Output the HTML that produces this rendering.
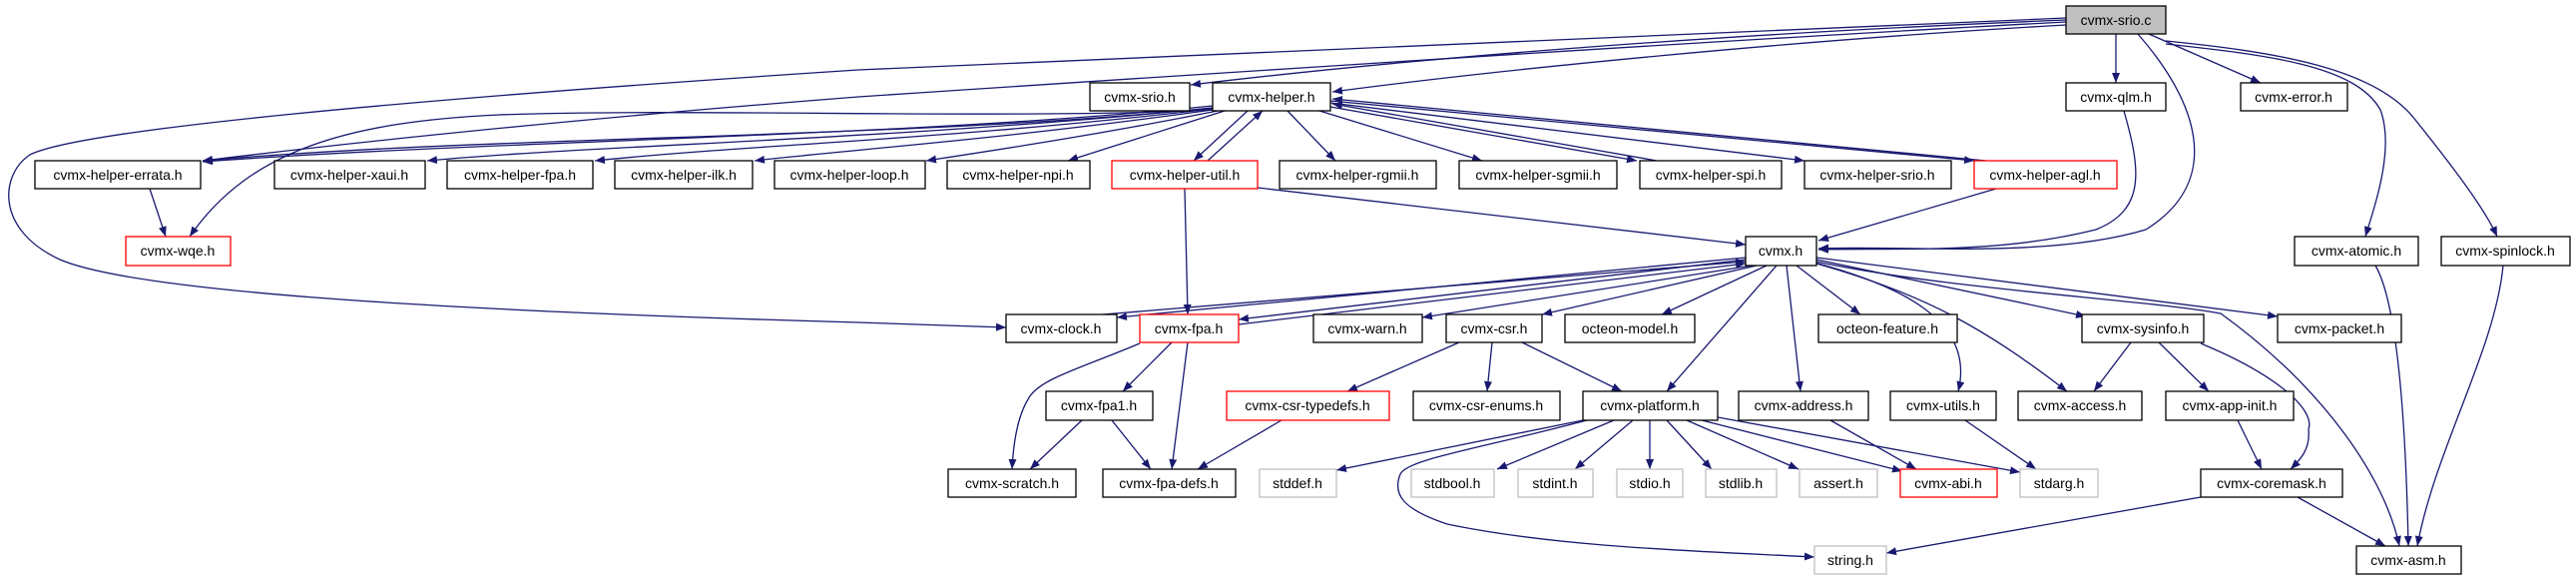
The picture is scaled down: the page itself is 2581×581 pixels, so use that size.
<!DOCTYPE html>
<html><head><meta charset="utf-8"><style>
html,body{margin:0;padding:0;background:#fff;}
svg{display:block;}
text{font-family:"Liberation Sans",sans-serif;font-size:14px;fill:#000;}
.e{fill:none;stroke:#191970;stroke-width:1.3;marker-end:url(#a);}
.n{fill:#fff;stroke:#000;stroke-width:1.3;}
.r{fill:#fff;stroke:#ff0000;stroke-width:1.3;}
.g{fill:#fff;stroke:#bfbfbf;stroke-width:1.3;}
</style></head><body>
<svg width="2581" height="581" viewBox="0 0 2581 581" xmlns="http://www.w3.org/2000/svg">
<defs><marker id="a" markerUnits="userSpaceOnUse" markerWidth="11" markerHeight="9" refX="10" refY="4" orient="auto"><path d="M0,0 L10,4 L0,8 z" fill="#191970"/></marker></defs>
<g>
<path class="e" d="M2070,20 C1700,35 1400,60 1193,85"/>
<path class="e" d="M2070,25 C1800,40 1500,70 1335,92"/>
<path class="e" d="M2120,34 L2120,83"/>
<path class="e" d="M2153,34 L2265,83"/>
<path class="e" d="M2142,34 C2200,100 2230,180 2150,230 C2050,260 1900,245 1822,249"/>
<path class="e" d="M2170,44 C2270,55 2360,65 2385,110 C2400,150 2378,210 2370,237"/>
<path class="e" d="M2170,41 C2280,52 2380,68 2420,120 C2460,170 2490,210 2502,237"/>
<path class="e" d="M2070,22 Q1720,40 860,97 Q500,125 203,161"/>
<path class="e" d="M2070,18 L860,70 C400,100 80,130 30,155 C0,175 -5,230 60,260 C130,290 400,310 860,323 L1008,328"/>
<path class="e" d="M1215,110 C1000,120 700,108 500,115 C350,122 250,150 190,237"/>
<path class="e" d="M1215,108 C900,140 500,135 203,161"/>
<path class="e" d="M1215,106 C900,138 500,140 203,162"/>
<path class="e" d="M1215,108 C900,140 600,145 428,161"/>
<path class="e" d="M1215,109 C950,140 750,145 596,161"/>
<path class="e" d="M1215,110 C1000,140 850,150 756,161"/>
<path class="e" d="M1220,111 C1100,135 1000,150 928,161"/>
<path class="e" d="M1227,111 L1070,161"/>
<path class="e" d="M1250,111 L1196,161"/>
<path class="e" d="M1210,161 L1265,111"/>
<path class="e" d="M1290,111 L1338,161"/>
<path class="e" d="M1322,111 L1485,161"/>
<path class="e" d="M1333,107 L1640,161"/>
<path class="e" d="M1660,161 L1335,104"/>
<path class="e" d="M1333,103 L1808,161"/>
<path class="e" d="M1333,101 L1978,161"/>
<path class="e" d="M1990,161 L1335,99"/>
<path class="e" d="M1187,189 L1190,315"/>
<path class="e" d="M1260,188 L1749,245"/>
<path class="e" d="M2000,189 L1822,241"/>
<path class="e" d="M2128,111 C2145,170 2150,210 2100,230 C2000,255 1900,248 1822,250"/>
<path class="e" d="M150,189 L166,237"/>
<path class="e" d="M2380,266 C2400,300 2410,400 2413,547"/>
<path class="e" d="M2508,266 C2500,350 2440,450 2422,547"/>
<path class="e" d="M1820,262 C1950,290 2150,300 2225,314 C2330,390 2390,480 2404,547"/>
<path class="e" d="M1749,258 L1119,318"/>
<path class="e" d="M1105,315 L1749,262"/>
<path class="e" d="M1749,260 L1241,320"/>
<path class="e" d="M1241,325 L1749,264"/>
<path class="e" d="M1755,266 L1425,318"/>
<path class="e" d="M1760,266 L1545,315"/>
<path class="e" d="M1770,266 L1665,315"/>
<path class="e" d="M1780,266 L1670,392"/>
<path class="e" d="M1800,266 L1864,315"/>
<path class="e" d="M1790,266 L1804,392"/>
<path class="e" d="M1818,263 C1900,285 1980,320 1962,392"/>
<path class="e" d="M1820,264 C1930,295 1990,330 2071,392"/>
<path class="e" d="M1820,260 L2090,317"/>
<path class="e" d="M1820,258 L2282,317"/>
<path class="e" d="M1174,343 L1125,392"/>
<path class="e" d="M1190,343 L1174,470"/>
<path class="e" d="M1142,344 C1080,370 1040,380 1030,400 C1018,420 1015,450 1014,470"/>
<path class="e" d="M1084,421 L1032,470"/>
<path class="e" d="M1114,421 L1153,470"/>
<path class="e" d="M1462,343 L1350,392"/>
<path class="e" d="M1495,343 L1490,392"/>
<path class="e" d="M1525,343 L1625,392"/>
<path class="e" d="M1284,421 L1200,470"/>
<path class="e" d="M1586,421 L1339,471"/>
<path class="e" d="M1617,421 L1500,470"/>
<path class="e" d="M1636,421 L1578,470"/>
<path class="e" d="M1653,421 L1653,470"/>
<path class="e" d="M1670,421 L1715,470"/>
<path class="e" d="M1690,421 L1802,470"/>
<path class="e" d="M1705,421 L1906,472"/>
<path class="e" d="M1721,418 L2024,473"/>
<path class="e" d="M1590,421 C1480,450 1410,460 1403,475 C1395,495 1405,510 1450,525 C1560,548 1700,552 1818,558"/>
<path class="e" d="M1834,421 L1920,470"/>
<path class="e" d="M1969,421 L2040,470"/>
<path class="e" d="M2135,343 L2098,392"/>
<path class="e" d="M2163,343 L2213,392"/>
<path class="e" d="M2205,344 C2280,375 2320,410 2313,430 C2315,450 2305,460 2295,470"/>
<path class="e" d="M2242,421 L2266,470"/>
<path class="e" d="M2205,498 L1890,554"/>
<path class="e" d="M2302,498 L2390,547"/>
</g>
<g>
<rect x="2070" y="6" width="100" height="28" fill="#bfbfbf" stroke="#000" stroke-width="1.3"/><text x="2120" y="25" text-anchor="middle">cvmx-srio.c</text>
<rect class="n" x="1092" y="83" width="100" height="28"/><text x="1142" y="102" text-anchor="middle">cvmx-srio.h</text>
<rect class="n" x="1215" y="83" width="118" height="28"/><text x="1274" y="102" text-anchor="middle">cvmx-helper.h</text>
<rect class="n" x="2070" y="83" width="100" height="28"/><text x="2120" y="102" text-anchor="middle">cvmx-qlm.h</text>
<rect class="n" x="2245" y="83" width="107" height="28"/><text x="2298" y="102" text-anchor="middle">cvmx-error.h</text>

<rect class="n" x="35" y="161" width="166" height="28"/><text x="118" y="180" text-anchor="middle">cvmx-helper-errata.h</text>
<rect class="n" x="275" y="161" width="151" height="28"/><text x="350" y="180" text-anchor="middle">cvmx-helper-xaui.h</text>
<rect class="n" x="448" y="161" width="146" height="28"/><text x="521" y="180" text-anchor="middle">cvmx-helper-fpa.h</text>
<rect class="n" x="616" y="161" width="138" height="28"/><text x="685" y="180" text-anchor="middle">cvmx-helper-ilk.h</text>
<rect class="n" x="776" y="161" width="151" height="28"/><text x="851" y="180" text-anchor="middle">cvmx-helper-loop.h</text>
<rect class="n" x="949" y="161" width="143" height="28"/><text x="1020" y="180" text-anchor="middle">cvmx-helper-npi.h</text>
<rect class="r" x="1114" y="161" width="146" height="28"/><text x="1187" y="180" text-anchor="middle">cvmx-helper-util.h</text>
<rect class="n" x="1282" y="161" width="157" height="28"/><text x="1360" y="180" text-anchor="middle">cvmx-helper-rgmii.h</text>
<rect class="n" x="1462" y="161" width="158" height="28"/><text x="1541" y="180" text-anchor="middle">cvmx-helper-sgmii.h</text>
<rect class="n" x="1643" y="161" width="142" height="28"/><text x="1714" y="180" text-anchor="middle">cvmx-helper-spi.h</text>
<rect class="n" x="1808" y="161" width="147" height="28"/><text x="1881" y="180" text-anchor="middle">cvmx-helper-srio.h</text>
<rect class="r" x="1978" y="161" width="143" height="28"/><text x="2049" y="180" text-anchor="middle">cvmx-helper-agl.h</text>

<rect class="r" x="126" y="237" width="105" height="29"/><text x="178" y="256" text-anchor="middle">cvmx-wqe.h</text>
<rect class="n" x="1749" y="237" width="71" height="29"/><text x="1784" y="256" text-anchor="middle">cvmx.h</text>
<rect class="n" x="2299" y="237" width="124" height="29"/><text x="2361" y="256" text-anchor="middle">cvmx-atomic.h</text>
<rect class="n" x="2446" y="237" width="129" height="29"/><text x="2510" y="256" text-anchor="middle">cvmx-spinlock.h</text>

<rect class="n" x="1008" y="315" width="111" height="28"/><text x="1063" y="334" text-anchor="middle">cvmx-clock.h</text>
<rect class="r" x="1142" y="315" width="99" height="28"/><text x="1191" y="334" text-anchor="middle">cvmx-fpa.h</text>
<rect class="n" x="1316" y="315" width="109" height="28"/><text x="1370" y="334" text-anchor="middle">cvmx-warn.h</text>
<rect class="n" x="1449" y="315" width="96" height="28"/><text x="1497" y="334" text-anchor="middle">cvmx-csr.h</text>
<rect class="n" x="1568" y="315" width="130" height="28"/><text x="1633" y="334" text-anchor="middle">octeon-model.h</text>
<rect class="n" x="1822" y="315" width="139" height="28"/><text x="1891" y="334" text-anchor="middle">octeon-feature.h</text>
<rect class="n" x="2086" y="315" width="122" height="28"/><text x="2147" y="334" text-anchor="middle">cvmx-sysinfo.h</text>
<rect class="n" x="2282" y="315" width="124" height="28"/><text x="2344" y="334" text-anchor="middle">cvmx-packet.h</text>

<rect class="n" x="1048" y="392" width="107" height="29"/><text x="1101" y="411" text-anchor="middle">cvmx-fpa1.h</text>
<rect class="r" x="1229" y="392" width="163" height="29"/><text x="1310" y="411" text-anchor="middle">cvmx-csr-typedefs.h</text>
<rect class="n" x="1416" y="392" width="147" height="29"/><text x="1489" y="411" text-anchor="middle">cvmx-csr-enums.h</text>
<rect class="n" x="1586" y="392" width="135" height="29"/><text x="1653" y="411" text-anchor="middle">cvmx-platform.h</text>
<rect class="n" x="1742" y="392" width="130" height="29"/><text x="1807" y="411" text-anchor="middle">cvmx-address.h</text>
<rect class="n" x="1894" y="392" width="106" height="29"/><text x="1947" y="411" text-anchor="middle">cvmx-utils.h</text>
<rect class="n" x="2022" y="392" width="124" height="29"/><text x="2084" y="411" text-anchor="middle">cvmx-access.h</text>
<rect class="n" x="2170" y="392" width="128" height="29"/><text x="2234" y="411" text-anchor="middle">cvmx-app-init.h</text>

<rect class="n" x="950" y="470" width="128" height="28"/><text x="1014" y="489" text-anchor="middle">cvmx-scratch.h</text>
<rect class="n" x="1105" y="470" width="133" height="28"/><text x="1171" y="489" text-anchor="middle">cvmx-fpa-defs.h</text>
<rect class="g" x="1262" y="470" width="77" height="28"/><text x="1300" y="489" text-anchor="middle">stddef.h</text>
<rect class="g" x="1414" y="470" width="83" height="28"/><text x="1455" y="489" text-anchor="middle">stdbool.h</text>
<rect class="g" x="1521" y="470" width="75" height="28"/><text x="1558" y="489" text-anchor="middle">stdint.h</text>
<rect class="g" x="1620" y="470" width="66" height="28"/><text x="1653" y="489" text-anchor="middle">stdio.h</text>
<rect class="g" x="1709" y="470" width="71" height="28"/><text x="1744" y="489" text-anchor="middle">stdlib.h</text>
<rect class="g" x="1803" y="470" width="78" height="28"/><text x="1842" y="489" text-anchor="middle">assert.h</text>
<rect class="r" x="1904" y="470" width="97" height="28"/><text x="1952" y="489" text-anchor="middle">cvmx-abi.h</text>
<rect class="g" x="2024" y="470" width="78" height="28"/><text x="2063" y="489" text-anchor="middle">stdarg.h</text>
<rect class="n" x="2205" y="470" width="142" height="28"/><text x="2276" y="489" text-anchor="middle">cvmx-coremask.h</text>

<rect class="g" x="1818" y="547" width="72" height="28"/><text x="1854" y="566" text-anchor="middle">string.h</text>
<rect class="n" x="2361" y="547" width="105" height="28"/><text x="2413" y="566" text-anchor="middle">cvmx-asm.h</text>
</g>
</svg>
</body></html>
